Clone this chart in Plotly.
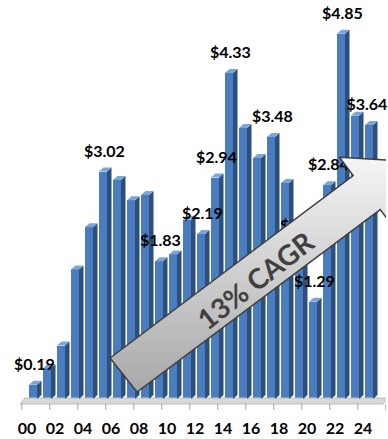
import plotly.graph_objects as go

# Annual values, 2000-2024 (two-digit year labels)
YEARS = ["00", "01", "02", "03", "04", "05", "06", "07", "08", "09",
         "10", "11", "12", "13", "14", "15", "16", "17", "18", "19",
         "20", "21", "22", "23", "24"]
VALUES = [0.19, 0.41, 0.71, 1.72, 2.28, 3.02, 2.91, 2.64, 2.71, 1.83,
          1.92, 2.38, 2.19, 2.94, 4.33, 3.60, 3.20, 3.48, 2.87, 2.03,
          1.29, 2.84, 4.85, 3.76, 3.64]
LABELED_YEARS = ["00", "05", "09", "12", "13", "14", "17", "19", "20", "21", "22", "24"]
TICK_YEARS = YEARS[::2]
CAGR_TEXT = "13% CAGR"

# ---- canvas geometry -------------------------------------------------------
W, H = 388, 439
M_L, M_R, M_T, M_B = 12, 2, 10, 27
PX_PER_CAT = 14.0          # horizontal pixels per year
PX_PER_USD = 75.3          # vertical pixels per dollar
X0_PX = 33.0               # pixel column of the first bar's centre
BASE_PX = 399.0            # pixel row of the zero line

X_RANGE = [(M_L - X0_PX) / PX_PER_CAT, (W - M_R - X0_PX) / PX_PER_CAT]
Y_RANGE = [(BASE_PX - (H - M_B)) / PX_PER_USD, (BASE_PX - M_T) / PX_PER_USD]


def to_data(px, py):
    """Convert a canvas pixel position to axis coordinates."""
    return (px - X0_PX) / PX_PER_CAT, (BASE_PX - py) / PX_PER_USD


# ---- 3-D bar look ----------------------------------------------------------
FRONT = "#4a7dbd"
SIDE = "#2c4f7e"
TOP = "#7ba4d8"
BAR_W = 8 / PX_PER_CAT
HALF = BAR_W / 2
DEPTH_X = 4.5 / PX_PER_CAT
DEPTH_Y = 4 / PX_PER_USD

xs = list(range(len(YEARS)))

side_x, side_y, top_x, top_y = [], [], [], []
for i, v in zip(xs, VALUES):
    r = i + HALF
    side_x += [r, r + DEPTH_X, r + DEPTH_X, r, r, None]
    side_y += [0, DEPTH_Y, v + DEPTH_Y, v, 0, None]
    l = i - HALF
    top_x += [l, r, r + DEPTH_X, l + DEPTH_X, l, None]
    top_y += [v, v, v + DEPTH_Y, v + DEPTH_Y, v, None]

fig = go.Figure()

# floor slab under the bars
fl = [to_data(20, 404), to_data(383, 404), to_data(388, 398), to_data(25, 398), to_data(20, 404)]
fig.add_trace(go.Scatter(
    x=[p[0] for p in fl], y=[p[1] for p in fl], mode="lines", fill="toself",
    fillcolor="#d9d9d9", line=dict(color="#bdbdbd", width=1),
    hoverinfo="skip", showlegend=False))

# tick marks along the floor's front edge, between year pairs
tick_x, tick_y = [], []
y_a = to_data(0, 404)[1]
y_b = to_data(0, 410)[1]
for k in range(len(TICK_YEARS) + 1):
    tx = -0.8 + 2 * k
    tick_x += [tx, tx, None]
    tick_y += [y_a, y_b, None]
fig.add_trace(go.Scatter(
    x=tick_x, y=tick_y, mode="lines", line=dict(color="#a6a6a6", width=1),
    hoverinfo="skip", showlegend=False))

# front faces of the bars
fig.add_trace(go.Bar(
    x=xs, y=VALUES, width=BAR_W, marker=dict(color=FRONT, line=dict(width=0)),
    showlegend=False, hovertemplate="20%{customdata}: $%{y:.2f}<extra></extra>",
    customdata=YEARS))

# side and top faces
fig.add_trace(go.Scatter(
    x=side_x, y=side_y, mode="lines", fill="toself", fillcolor=SIDE,
    line=dict(width=0, color=SIDE), hoverinfo="skip", showlegend=False))
fig.add_trace(go.Scatter(
    x=top_x, y=top_y, mode="lines", fill="toself", fillcolor=TOP,
    line=dict(width=0, color=TOP), hoverinfo="skip", showlegend=False))

# value labels (the last one is nudged left so it stays on the canvas)
lab_idx = [YEARS.index(y) for y in LABELED_YEARS]
lab_x = [i + 0.1 for i in lab_idx]
lab_x[-1] = lab_idx[-1] - 0.15
fig.add_trace(go.Scatter(
    x=lab_x,
    y=[VALUES[i] + 0.25 for i in lab_idx],
    mode="text", text=[f"${VALUES[i]:.2f}" for i in lab_idx],
    textposition="middle center", cliponaxis=False,
    textfont=dict(family="Lato", size=16, color="#000000", weight="bold"),
    hoverinfo="skip", showlegend=False))

# growth arrow
arrow_px = [(110, 358), (353.2, 175.6), (339.4, 157.2), (408.3, 161.4),
            (394.0, 228.0), (380.2, 209.6), (137, 392), (110, 358)]
arrow = [to_data(*p) for p in arrow_px]
fig.add_trace(go.Scatter(
    x=[p[0] for p in arrow], y=[p[1] for p in arrow], mode="lines",
    fill="toself",
    fillgradient=dict(type="vertical",
                      colorscale=[[0, "#a8a8a8"], [0.55, "#d2d2d2"], [1, "#f6f6f6"]]),
    line=dict(color="#3f3f3f", width=1.5),
    hoverinfo="skip", showlegend=False))

ax, ay = to_data(255, 280)
fig.add_annotation(
    x=ax, y=ay, xref="x", yref="y", text=CAGR_TEXT, showarrow=False,
    textangle=-38, font=dict(family="Lato", size=28, color="#404040", weight="bold"))

fig.update_layout(
    width=W, height=H,
    margin=dict(l=M_L, r=M_R, t=M_T, b=M_B),
    paper_bgcolor="white", plot_bgcolor="white",
    bargap=0,
    xaxis=dict(range=X_RANGE, showgrid=False, zeroline=False, showline=False,
               tickmode="array",
               tickvals=[YEARS.index(t) - 0.43 for t in TICK_YEARS],
               ticktext=TICK_YEARS, ticks="", ticklabelstandoff=5,
               tickfont=dict(family="Lato", size=16, color="#000000", weight="bold")),
    yaxis=dict(range=Y_RANGE, visible=False, showgrid=False, zeroline=False),
)

fig.write_html("out.html")
